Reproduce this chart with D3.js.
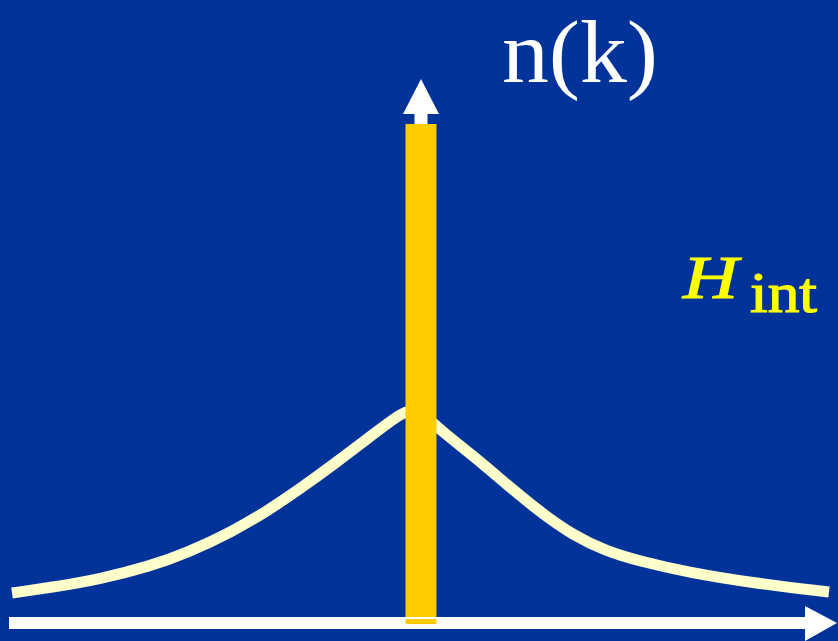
<!DOCTYPE html>
<html>
<head>
<meta charset="utf-8">
<script src="https://cdn.jsdelivr.net/npm/d3@7"></script>
<style>
  html, body { margin: 0; padding: 0; background: #003399; overflow: hidden; }
</style>
</head>
<body>
<div id="chart"></div>
<script>
(() => {
    const width = 838, height = 641;

    // momentum k (scaled -1..1) and occupation n(k) (scaled 0..1)
    const kValues = [-1.000, -0.883, -0.785, -0.662, -0.572, -0.459, -0.376, -0.295, -0.214, -0.131,
                     -0.050, -0.021, 0.013, 0.048, 0.129, 0.212, 0.293, 0.373, 0.454,
                     0.536, 0.652, 0.814, 1.000];
    const nValues = [0.060, 0.074, 0.088, 0.114, 0.140, 0.184, 0.224, 0.269, 0.317, 0.369,
                     0.419, 0.429, 0.415, 0.387, 0.335, 0.277, 0.222, 0.176, 0.144,
                     0.124, 0.102, 0.080, 0.062];
    // the free (step-like) occupation at k = 0
    const peakK = [0];
    const peakN = [1];

    const svg = d3.select("#chart")
        .append("svg")
        .attr("width", width)
        .attr("height", height);

    svg.append("rect")
        .attr("width", width)
        .attr("height", height)
        .attr("fill", "#003399");

    const x = d3.scaleLinear().domain([-1, 1]).range([12, 829]);
    const y = d3.scaleLinear().domain([0, 1]).range([623, 124]);

    const curve = kValues.map((k, i) => ({ k, n: nValues[i] }));

    const line = d3.line()
        .x(d => x(d.k))
        .y(d => y(d.n))
        .curve(d3.curveBasis);

    svg.append("path")
        .datum(curve)
        .attr("d", line)
        .attr("fill", "none")
        .attr("stroke", "#ffffcc")
        .attr("stroke-width", 11)
        .attr("stroke-linecap", "butt");

    // vertical axis arrow
    const cx = x(0) + 0.5;
    svg.append("rect")
        .attr("x", cx - 6.5).attr("y", 112)
        .attr("width", 13).attr("height", y(0) - 112)
        .attr("fill", "#ffffff");
    svg.append("path")
        .attr("d", `M${cx},79 L${cx + 18},114 L${cx - 18},114 Z`)
        .attr("fill", "#ffffff");

    // horizontal axis arrow
    svg.append("rect")
        .attr("x", 9).attr("y", y(0) - 6)
        .attr("width", 797).attr("height", 12)
        .attr("fill", "#ffffff");
    svg.append("path")
        .attr("d", `M805,606 L837,${y(0)} L805,641 Z`)
        .attr("fill", "#ffffff");

    // step occupation bar
    const barW = 31;
    svg.selectAll(".bar")
        .data(peakK.map((k, i) => ({ k, n: peakN[i] })))
        .enter()
        .append("rect")
        .attr("class", "bar")
        .attr("x", d => x(d.k) + 0.5 - barW / 2)
        .attr("y", d => y(d.n))
        .attr("width", barW)
        .attr("height", d => y(0) - 6 - y(d.n))
        .attr("fill", "#ffcc00");
    svg.append("rect")
        .attr("x", cx - barW / 2).attr("y", y(0) - 4)
        .attr("width", barW).attr("height", 5)
        .attr("fill", "#ffcc00");

    // labels
    const font = "'Liberation Serif', 'Times New Roman', serif";
    svg.append("text")
        .attr("x", 502).attr("y", 82)
        .attr("font-family", font)
        .attr("font-size", 88)
        .attr("fill", "#ffffff")
        .attr("textLength", 156)
        .attr("lengthAdjust", "spacingAndGlyphs")
        .text("n(k)");

    svg.append("text")
        .attr("x", 683).attr("y", 298)
        .attr("font-family", font)
        .attr("font-size", 62)
        .attr("font-style", "italic")
        .attr("fill", "#ffff00")
        .attr("stroke", "#ffff00")
        .attr("stroke-width", 1.2)
        .attr("textLength", 55)
        .attr("lengthAdjust", "spacingAndGlyphs")
        .text("H");
    svg.append("text")
        .attr("x", 750).attr("y", 312)
        .attr("font-family", font)
        .attr("font-size", 56)
        .attr("fill", "#ffff00")
        .attr("stroke", "#ffff00")
        .attr("stroke-width", 1.2)
        .attr("textLength", 67)
        .attr("lengthAdjust", "spacingAndGlyphs")
        .text("int");
})();
</script>
</body>
</html>
